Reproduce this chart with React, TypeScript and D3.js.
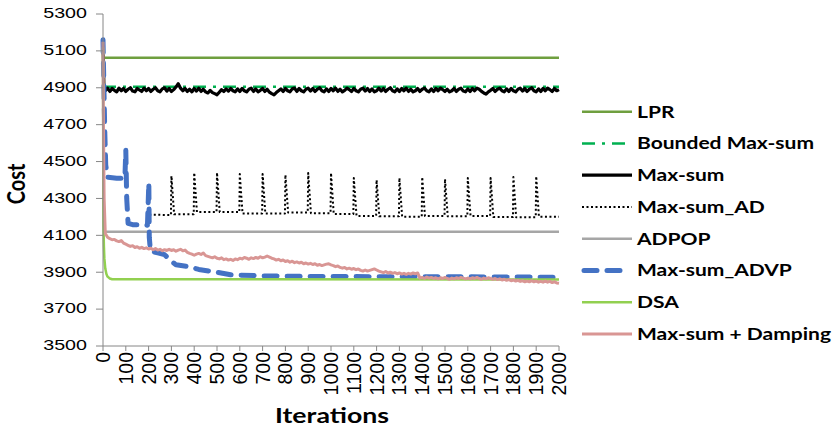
import React from "react";
import * as d3 from "d3";

const W = 838;
const H = 429;
const margin = { top: 14, right: 279, bottom: 83, left: 103 };
const STRETCH = 1.27; // the source picture is widened horizontally

const xTicks = [0, 100, 200, 300, 400, 500, 600, 700, 800, 900, 1000, 1100, 1200, 1300, 1400, 1500, 1600, 1700, 1800, 1900, 2000];
const yTicks = [3500, 3700, 3900, 4100, 4300, 4500, 4700, 4900, 5100, 5300];

// [iteration, cost]
const lpr = [[0, 5063], [2000, 5063]];
const boundedMaxSum = [[0, 4906], [2000, 4906]];
const adpop = [[0, 4120], [2000, 4120]];
const dsa = [[0, 5120], [1, 4500], [2, 4150], [4, 4040], [6, 3975], [10, 3920], [15, 3890], [20, 3876], [30, 3866], [40, 3862], [2000, 3860]];
const maxSumAdvp = [
  [0, 5160], [4, 4900], [8, 4650], [12, 4480], [20, 4415], [60, 4410], [96, 4408], [100, 4563], [104, 4300], [110, 4165],
  [130, 4158], [195, 4155], [201, 4384], [203, 4090], [208, 4015], [240, 4005], [270, 3995], [300, 3960], [320, 3940],
  [380, 3930], [420, 3915], [500, 3900], [560, 3886], [700, 3880], [900, 3877], [1200, 3876], [1600, 3875], [2000, 3873],
];
const maxSumAd = [
  [203, 4212], [298, 4210], [300, 4422], [312, 4214], [398, 4214], [400, 4440], [412, 4226], [498, 4226], [500, 4440],
  [512, 4226], [598, 4226], [600, 4432], [612, 4218], [698, 4218], [700, 4432], [712, 4218], [798, 4218], [800, 4428],
  [812, 4224], [898, 4224], [900, 4438], [912, 4220], [998, 4220], [1000, 4438], [1012, 4216], [1098, 4216], [1100, 4411],
  [1112, 4205], [1198, 4205], [1200, 4400], [1212, 4203], [1298, 4203], [1300, 4411], [1312, 4201], [1398, 4201],
  [1400, 4416], [1412, 4205], [1498, 4205], [1500, 4405], [1512, 4203], [1598, 4203], [1600, 4411], [1612, 4205],
  [1698, 4205], [1700, 4411], [1712, 4200], [1798, 4200], [1800, 4416], [1812, 4198], [1898, 4198], [1900, 4420],
  [1912, 4201], [2000, 4201],
];

// noisy series: a few head points, then one value every 10 iterations from 10 to 2000
const maxSumHead = [[0, 5150], [4, 4905]];
const maxSumValues = [
  4884, 4898, 4880, 4896, 4886, 4878, 4898, 4884, 4896, 4880,
  4892, 4900, 4882, 4878, 4896, 4888, 4880, 4898, 4884, 4896,
  4880, 4892, 4900, 4884, 4878, 4894, 4900, 4882, 4896, 4880,
  4890, 4904, 4922, 4898, 4884, 4896, 4880, 4892, 4878, 4896,
  4882, 4898, 4880, 4892, 4878, 4872, 4886, 4874, 4868, 4862,
  4876, 4890, 4880, 4894, 4882, 4896, 4884, 4878, 4894, 4880,
  4896, 4884, 4878, 4892, 4898, 4880, 4894, 4878, 4886, 4896,
  4880, 4892, 4876, 4868, 4862, 4874, 4884, 4894, 4880, 4896,
  4884, 4878, 4894, 4898, 4880, 4896, 4884, 4878, 4892, 4898,
  4882, 4896, 4880, 4892, 4900, 4884, 4878, 4894, 4880, 4896,
  4884, 4898, 4880, 4892, 4878, 4886, 4898, 4890, 4880, 4896,
  4884, 4878, 4892, 4898, 4882, 4896, 4880, 4894, 4878, 4884,
  4898, 4882, 4896, 4880, 4892, 4900, 4884, 4878, 4894, 4880,
  4896, 4884, 4898, 4880, 4892, 4878, 4884, 4896, 4880, 4892,
  4898, 4884, 4878, 4894, 4880, 4896, 4884, 4898, 4890, 4880,
  4892, 4878, 4884, 4896, 4880, 4892, 4898, 4882, 4878, 4894,
  4880, 4896, 4884, 4898, 4892, 4880, 4872, 4866, 4878, 4886,
  4896, 4880, 4892, 4898, 4884, 4878, 4894, 4880, 4896, 4884,
  4878, 4892, 4898, 4882, 4896, 4880, 4892, 4900, 4884, 4878,
  4894, 4880, 4896, 4884, 4898, 4890, 4880, 4896, 4884, 4890,
];
const dampingHead = [[0, 5150], [2, 4700], [5, 4300]];
const dampingValues = [
  4110, 4090, 4082, 4076, 4078, 4070, 4066, 4072, 4058, 4052,
  4046, 4040, 4044, 4034, 4038, 4030, 4035, 4028, 4032, 4026,
  4030, 4022, 4028, 4020, 4024, 4016, 4022, 4018, 4024, 4018,
  4022, 4014, 4020, 4024, 4016, 4020, 4008, 4002, 3998, 3992,
  3998, 4002, 3996, 4004, 3990, 3986, 3982, 3978, 3984, 3976,
  3972, 3978, 3968, 3972, 3966, 3970, 3964, 3972, 3968, 3976,
  3972, 3980, 3976, 3970, 3978, 3974, 3980, 3976, 3984, 3978,
  3982, 3988, 3982, 3976, 3972, 3966, 3970, 3962, 3966, 3958,
  3962, 3954, 3960, 3952, 3956, 3950, 3954, 3946, 3950, 3944,
  3948, 3942, 3946, 3938, 3942, 3936, 3940, 3944, 3946, 3940,
  3936, 3930, 3934, 3926, 3922, 3926, 3918, 3922, 3916, 3920,
  3914, 3918, 3910, 3906, 3912, 3906, 3910, 3914, 3918, 3912,
  3906, 3902, 3898, 3904, 3896, 3900, 3894, 3898, 3892, 3896,
  3890, 3894, 3888, 3894, 3890, 3896, 3892, 3896, 3868, 3872,
  3866, 3874, 3868, 3872, 3866, 3870, 3864, 3870, 3866, 3872,
  3866, 3862, 3868, 3864, 3870, 3866, 3872, 3868, 3864, 3868,
  3864, 3870, 3866, 3872, 3866, 3862, 3868, 3864, 3870, 3866,
  3862, 3866, 3860, 3864, 3858, 3862, 3856, 3860, 3854, 3858,
  3852, 3856, 3850, 3854, 3848, 3852, 3848, 3854, 3848, 3852,
  3846, 3850, 3846, 3852, 3846, 3850, 3844, 3848, 3842, 3840,
];

const every10 = (vals: number[]) => vals.map((v, i) => [10 + i * 10, v]);

const series = [
  { name: "LPR", data: lpr, color: "#6f9f3f", width: 2.5, dash: "" },
  { name: "Bounded Max-sum", data: boundedMaxSum, color: "#00b050", width: 2.5, dash: "13,7,3,7" },
  { name: "Max-sum", data: maxSumHead.concat(every10(maxSumValues)), color: "#000000", width: 3.2, dash: "" },
  { name: "Max-sum_AD", data: maxSumAd, color: "#000000", width: 2, dash: "2,2.5" },
  { name: "ADPOP", data: adpop, color: "#a6a6a6", width: 2.5, dash: "" },
  { name: "Max-sum_ADVP", data: maxSumAdvp, color: "#4472c4", width: 5, dash: "13,10", round: true },
  { name: "DSA", data: dsa, color: "#92d050", width: 2.5, dash: "" },
  { name: "Max-sum + Damping", data: dampingHead.concat(every10(dampingValues)), color: "#d99694", width: 3, dash: "" },
];

export default function App() {
  const x = d3.scaleLinear().domain([0, 2000]).range([margin.left, W - margin.right - 0]);
  const y = d3.scaleLinear().domain([3500, 5300]).range([H - margin.bottom, margin.top]);
  const line = d3.line<number[]>().x((d) => x(d[0])).y((d) => y(d[1]));
  const axisColor = "#868686";
  const tickFont = "'Liberation Sans', Arial, sans-serif";
  const titleFont = "Lato, 'Open Sans', sans-serif";
  const legendY0 = 111.7;
  const legendStep = 31.75;

  return (
    <svg width={W} height={H} style={{ position: "absolute", left: 0, top: 0, background: "#fff" }}>
      {/* series */}
      {series.map((s) => (
        <path
          key={s.name}
          d={line(s.data as number[][]) || ""}
          fill="none"
          stroke={s.color}
          strokeWidth={s.width}
          strokeDasharray={s.dash || undefined}
          strokeLinecap={s.round ? "round" : "butt"}
          strokeLinejoin="round"
        />
      ))}

      {/* y axis */}
      <line x1={x(0)} x2={x(0)} y1={y(5300)} y2={y(3500)} stroke={axisColor} strokeWidth={1} />
      {yTicks.map((t) => (
        <g key={t}>
          <line x1={x(0) - 7} x2={x(0)} y1={y(t)} y2={y(t)} stroke={axisColor} />
          <text
            transform={`translate(87,${y(t) + 4.3}) scale(${STRETCH},1)`}
            textAnchor="end"
            fontFamily={tickFont}
            fontSize={15.5}
            fill="#000"
          >
            {t}
          </text>
        </g>
      ))}

      {/* x axis */}
      <line x1={x(0)} x2={x(2000)} y1={y(3500)} y2={y(3500)} stroke={axisColor} strokeWidth={1} />
      {xTicks.map((t) => (
        <g key={t}>
          <line x1={x(t)} x2={x(t)} y1={y(3500)} y2={y(3500) + 5} stroke={axisColor} />
          <text
            transform={`translate(${x(t)},${y(3500) + 6}) rotate(-90)`}
            textAnchor="end"
            dy="0.36em"
            fontFamily={tickFont}
            fontSize={19.5}
            fill="#000"
          >
            {t}
          </text>
        </g>
      ))}

      {/* axis titles */}
      <text
        transform={`translate(25,184) rotate(-90) scale(1,${STRETCH})`}
        textAnchor="middle"
        fontFamily={titleFont}
        fontWeight="bold"
        fontSize={20}
        fill="#000"
      >
        Cost
      </text>
      <text
        transform={`translate(332,423) scale(${STRETCH},1)`}
        textAnchor="middle"
        fontFamily={titleFont}
        fontWeight="bold"
        fontSize={21}
        fill="#000"
      >
        Iterations
      </text>

      {/* legend */}
      {series.map((s, i) => {
        const ly = legendY0 + i * legendStep;
        return (
          <g key={s.name}>
            <line
              x1={s.round ? 584 : 582}
              x2={s.round ? 630 : 632}
              y1={ly}
              y2={ly}
              stroke={s.color}
              strokeWidth={s.width}
              strokeDasharray={s.dash || undefined}
              strokeLinecap={s.round ? "round" : "butt"}
            />
            <text
              transform={`translate(637,${ly}) scale(1.29,1)`}
              dy="0.36em"
              fontFamily={titleFont}
              fontWeight="bold"
              fontSize={16.3}
              fill="#000"
            >
              {s.name}
            </text>
          </g>
        );
      })}
    </svg>
  );
}
